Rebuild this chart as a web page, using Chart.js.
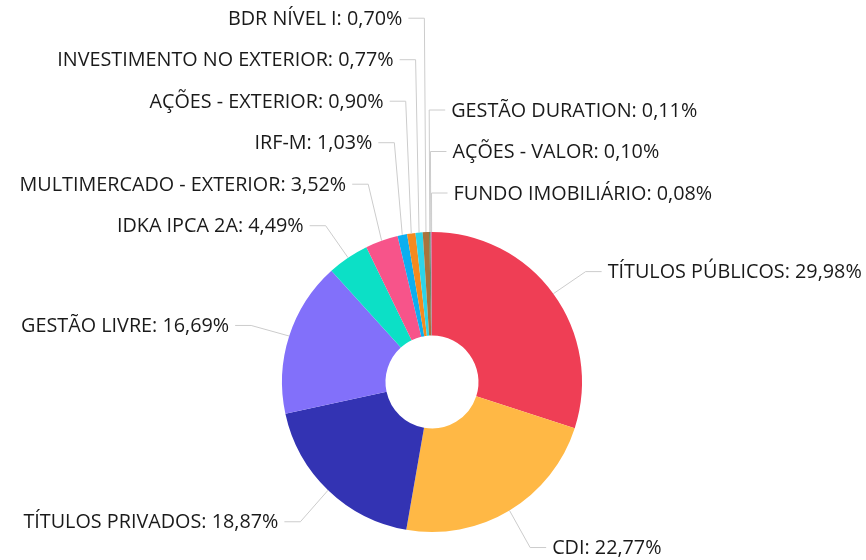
<!DOCTYPE html>
<html>
<head>
<meta charset="utf-8">
<script src="https://cdn.jsdelivr.net/npm/chart.js@4/dist/chart.umd.min.js"></script>
<style>
  html, body { margin: 0; padding: 0; background: #fff; }
  #wrap { width: 866px; height: 560px; }
</style>
</head>
<body>
<div id="wrap"><canvas id="allocChart" width="866" height="560"></canvas></div>
<script>
// Allocation data ------------------------------------------------------------
const categories = [
    'TÍTULOS PÚBLICOS', 'CDI', 'TÍTULOS PRIVADOS', 'GESTÃO LIVRE',
    'IDKA IPCA 2A', 'MULTIMERCADO - EXTERIOR', 'IRF-M', 'AÇÕES - EXTERIOR',
    'INVESTIMENTO NO EXTERIOR', 'BDR NÍVEL I', 'GESTÃO DURATION',
    'AÇÕES - VALOR', 'FUNDO IMOBILIÁRIO'
];
const shares = [29.98, 22.77, 18.87, 16.69, 4.49, 3.52, 1.03, 0.90, 0.77, 0.70, 0.11, 0.10, 0.08];

const sliceColors = [
    '#EF3E55', '#FFB845', '#3333B3', '#8270FA', '#0CE0C6', '#F7548A', '#0BAFF0',
    '#F58A1F', '#2CD4E8', '#A8733C', '#2E6B3A', '#8A8A8A', '#D94F8C'
];

// outside labels with leader lines ---------------------------------------------
const outerLabels = {
    id: 'outerLabels',
    afterDraw(chart) {
        const ctx = chart.ctx;
        const meta = chart.getDatasetMeta(0);
        const rx = 190, ry = 191, gap = 41.5;
        const left = [], right = [];

        meta.data.forEach((arc, i) => {
            const p = arc.getProps(['x', 'y', 'startAngle', 'endAngle', 'outerRadius'], true);
            const a = (p.startAngle + p.endAngle) / 2;
            let deg = (a + Math.PI / 2) * 180 / Math.PI;   // clockwise from top
            deg = ((deg % 360) + 360) % 360;
            const item = {
                i, deg,
                ax: p.x + p.outerRadius * Math.cos(a),
                ay: p.y + p.outerRadius * Math.sin(a),
                nx: p.x + rx * Math.cos(a),
                y: p.y + 2 + ry * Math.sin(a)
            };
            if (deg < 180 || deg > 359) {
                item.key = deg > 180 ? deg - 360 : deg;
                right.push(item);
            } else {
                item.key = 360 - deg;
                left.push(item);
            }
        });

        [left, right].forEach(list => {
            list.sort((a, b) => a.key - b.key);
            for (let k = list.length - 2; k >= 0; k--) {
                list[k].y = Math.min(list[k].y, list[k + 1].y - gap);
            }
        });

        ctx.save();
        ctx.font = '19.8px "Open Sans", sans-serif';
        ctx.textBaseline = 'middle';
        const draw = (it, dir) => {
            ctx.strokeStyle = '#cccccc';
            ctx.lineWidth = 1;
            ctx.beginPath();
            ctx.moveTo(it.ax, it.ay);
            ctx.lineTo(it.nx, it.y);
            ctx.lineTo(it.nx + dir * 16, it.y);
            ctx.stroke();
            ctx.fillStyle = '#1a1a1a';
            ctx.textAlign = dir > 0 ? 'left' : 'right';
            const txt = categories[it.i] + ': ' + shares[it.i].toFixed(2).replace('.', ',') + '%';
            ctx.fillText(txt, it.nx + dir * 22, it.y + 1);
        };
        left.forEach(it => draw(it, -1));
        right.forEach(it => draw(it, 1));
        ctx.restore();
    }
};

const allocCtx = document.getElementById('allocChart').getContext('2d');
new Chart(allocCtx, {
    type: 'doughnut',
    data: {
        labels: categories,
        datasets: [{
            data: shares,
            backgroundColor: sliceColors,
            borderWidth: 0
        }]
    },
    options: {
        responsive: false,
        animation: false,
        cutout: '31%',
        layout: { padding: { left: 282, right: 284, top: 232, bottom: 28 } },
        plugins: {
            legend: { display: false },
            tooltip: { enabled: false }
        }
    },
    plugins: [outerLabels]
});
</script>
</body>
</html>
